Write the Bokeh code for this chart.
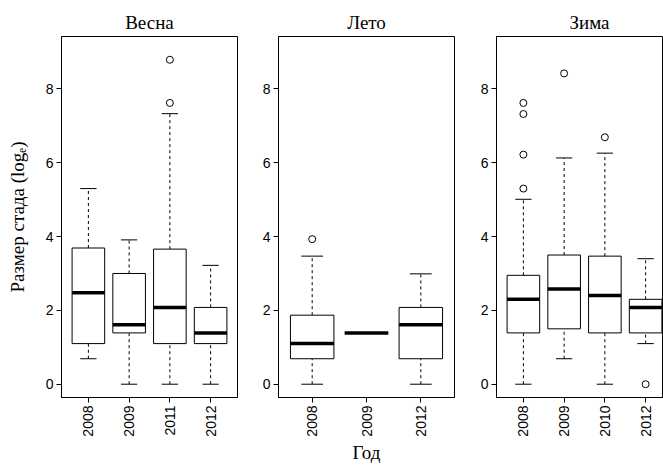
import numpy as np
from bokeh.plotting import figure
from bokeh.models import ColumnDataSource, Range1d, FixedTicker
from bokeh.transform import dodge
from bokeh.layouts import row
from bokeh.embed import file_html
from bokeh.resources import INLINE

# ---- data (log_e of herd size) ----
spring_years = ["2008", "2009", "2011", "2012"]
spring_lo = [0.69, 0.00, 0.00, 0.00]
spring_q1 = [1.10, 1.39, 1.10, 1.10]
spring_med = [2.48, 1.61, 2.08, 1.39]
spring_q3 = [3.69, 3.00, 3.66, 2.08]
spring_hi = [5.30, 3.91, 7.33, 3.22]
spring_out_years = ["2011", "2011"]
spring_out_vals = [7.62, 8.79]

summer_years = ["2008", "2009", "2012"]
summer_lo = [0.00, 1.39, 0.00]
summer_q1 = [0.69, 1.39, 0.69]
summer_med = [1.10, 1.39, 1.61]
summer_q3 = [1.87, 1.39, 2.08]
summer_hi = [3.47, 1.39, 2.99]
summer_out_years = ["2008"]
summer_out_vals = [3.93]

winter_years = ["2008", "2009", "2010", "2012"]
winter_lo = [0.00, 0.69, 0.00, 1.10]
winter_q1 = [1.39, 1.50, 1.39, 1.39]
winter_med = [2.30, 2.58, 2.40, 2.08]
winter_q3 = [2.95, 3.50, 3.47, 2.30]
winter_hi = [5.01, 6.13, 6.26, 3.40]
winter_out_years = ["2008", "2008", "2008", "2008", "2009", "2010", "2012"]
winter_out_vals = [7.62, 7.32, 6.22, 5.30, 8.42, 6.69, 0.00]

y_ticks = [0, 2, 4, 6, 8]

SERIF = "Liberation Serif"
SANS = "Liberation Sans"
H = 465
FULL_FRAME = 176


def panel(title, years, lo, q1, med, q3, hi, out_years, out_vals,
          width, bl, br, clip_frame=None):
    n = len(years)
    xs = list(range(1, n + 1))
    start = 0.5 - 0.04 * n
    end = n + 0.5 + 0.04 * n
    if clip_frame is not None:
        end = start + (end - start) * clip_frame / FULL_FRAME
    p = figure(width=width, height=H, x_range=Range1d(start, end),
               y_range=Range1d(-0.36, 9.42), output_backend="svg",
               toolbar_location=None, min_border_left=bl, min_border_right=br,
               min_border_top=36, min_border_bottom=68, title=title)
    p.background_fill_color = "white"
    p.border_fill_color = "white"
    p.outline_line_color = "black"
    p.outline_line_width = 1
    p.xgrid.visible = False
    p.ygrid.visible = False

    p.title.text_font = SERIF
    p.title.text_font_size = "19px"
    p.title.text_font_style = "normal"
    p.title.text_color = "black"
    p.title.align = "center"
    p.title.standoff = 7

    p.xaxis.ticker = FixedTicker(ticks=xs)
    p.xaxis.major_label_overrides = {x: y for x, y in zip(xs, years)}
    p.xaxis.major_label_orientation = np.pi / 2
    p.yaxis.ticker = FixedTicker(ticks=y_ticks)
    for ax in (p.xaxis, p.yaxis):
        ax.axis_line_color = "black"
        ax.major_tick_line_color = "black"
        ax.major_tick_out = 5
        ax.major_tick_in = 0
        ax.minor_tick_line_color = None
        ax.major_label_text_font = SANS
        ax.major_label_text_font_size = "14px"
        ax.major_label_text_color = "black"
        ax.major_label_standoff = 3
        ax.axis_label_text_font = SERIF
        ax.axis_label_text_font_size = "19px"
        ax.axis_label_text_font_style = "normal"
        ax.axis_label_text_color = "black"

    src = ColumnDataSource(dict(x=xs, lo=lo, q1=q1, med=med, q3=q3, hi=hi))
    p.segment(x0="x", y0="q3", x1="x", y1="hi", line_color="black",
              line_width=1, line_dash="3 3", source=src)
    p.segment(x0="x", y0="lo", x1="x", y1="q1", line_color="black",
              line_width=1, line_dash="3 3", source=src)
    p.segment(x0=dodge("x", -0.2), y0="hi", x1=dodge("x", 0.2), y1="hi",
              line_color="black", line_width=1, source=src)
    p.segment(x0=dodge("x", -0.2), y0="lo", x1=dodge("x", 0.2), y1="lo",
              line_color="black", line_width=1, source=src)
    p.vbar(x="x", width=0.8, bottom="q1", top="q3", fill_color="white",
           line_color="black", line_width=1, source=src)
    p.segment(x0=dodge("x", -0.4), y0="med", x1=dodge("x", 0.4), y1="med",
              line_color="black", line_width=3.5, source=src)

    ox = [years.index(y) + 1 for y in out_years]
    p.scatter(x=ox, y=out_vals, marker="circle", size=7, fill_color=None,
              line_color="black", line_width=1)
    return p


p1 = panel("Весна", spring_years, spring_lo, spring_q1, spring_med, spring_q3,
           spring_hi, spring_out_years, spring_out_vals, 258, 61, 21)
p1.yaxis.axis_label = "Размер стада (logₑ)"
p1.yaxis.axis_label_standoff = 15

p2 = panel("Лето", summer_years, summer_lo, summer_q1, summer_med, summer_q3,
           summer_hi, summer_out_years, summer_out_vals, 217, 20, 21)
p2.xaxis.axis_label = "Год"
p2.xaxis.axis_label_standoff = 2

p3 = panel("Зима", winter_years, winter_lo, winter_q1, winter_med, winter_q3,
           winter_hi, winter_out_years, winter_out_vals, 188, 21, 0,
           clip_frame=167)
p3.title.align = "left"
p3.title.offset = 73

layout = row(p1, p2, p3)
open("out.html", "w").write(file_html(layout, INLINE))
